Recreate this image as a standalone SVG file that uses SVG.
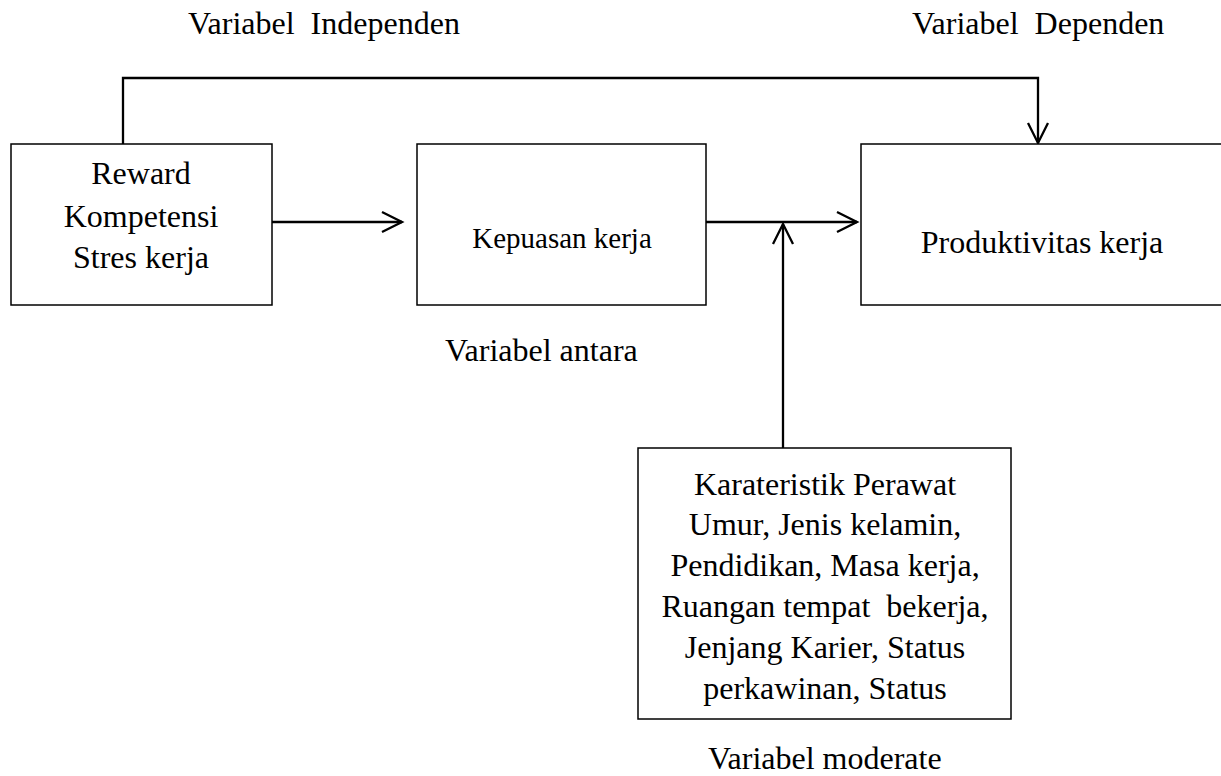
<svg xmlns="http://www.w3.org/2000/svg" width="1221" height="776" viewBox="0 0 1221 776">
<defs>
<style>
.box{fill:#fff;stroke:#000;stroke-width:1.5}
.t{font-family:"Liberation Serif","Times New Roman",serif;font-size:32px;fill:#000;text-anchor:middle;white-space:pre}
.lab{font-family:"Liberation Serif","Times New Roman",serif;font-size:32px;fill:#000;white-space:pre}
.c{fill:none;stroke:#000;stroke-width:2.3}
</style>
<marker id="ah" markerUnits="userSpaceOnUse" markerWidth="26" markerHeight="26" viewBox="-23 -13 26 26" refX="0" refY="0" orient="auto">
<path d="M-20,-10 L0,0 L-20,10" fill="none" stroke="#000" stroke-width="2.3"/>
</marker>
</defs>
<rect width="1221" height="776" fill="#fff"/>
<g id="connectors">
<path class="c" d="M123,144 V78 H1038 V143" marker-end="url(#ah)"/>
<path class="c" d="M272,222 H402" marker-end="url(#ah)"/>
<path class="c" d="M706,222 H857" marker-end="url(#ah)"/>
<path class="c" d="M783,448 V224" marker-end="url(#ah)"/>
</g>
<g id="labels">
<text class="lab" x="188" y="34" xml:space="preserve">Variabel  Independen</text>
<text class="lab" x="912" y="34" xml:space="preserve">Variabel  Dependen</text>
<text class="lab" x="445" y="361">Variabel antara</text>
<text class="lab" x="708" y="769">Variabel moderate</text>
</g>
<g id="node-independen">
<rect class="box" x="11" y="144" width="261" height="161"/>
<text class="t" x="141" y="184">Reward</text>
<text class="t" x="141" y="227">Kompetensi</text>
<text class="t" x="141" y="268">Stres kerja</text>
</g>
<g id="node-antara">
<rect class="box" x="417" y="144" width="289" height="161"/>
<text class="t" x="562" y="248" style="font-size:29px">Kepuasan kerja</text>
</g>
<g id="node-dependen">
<rect class="box" x="861" y="144" width="370" height="161"/>
<text class="t" x="1042" y="253">Produktivitas kerja</text>
</g>
<g id="node-moderate">
<rect class="box" x="638" y="448" width="373" height="271"/>
<text class="t" x="825" y="495">Karateristik Perawat</text>
<text class="t" x="825" y="535">Umur, Jenis kelamin,</text>
<text class="t" x="825" y="576">Pendidikan, Masa kerja,</text>
<text class="t" x="825" y="617" xml:space="preserve">Ruangan tempat  bekerja,</text>
<text class="t" x="825" y="658">Jenjang Karier, Status</text>
<text class="t" x="825" y="699">perkawinan, Status</text>
</g>
</svg>
